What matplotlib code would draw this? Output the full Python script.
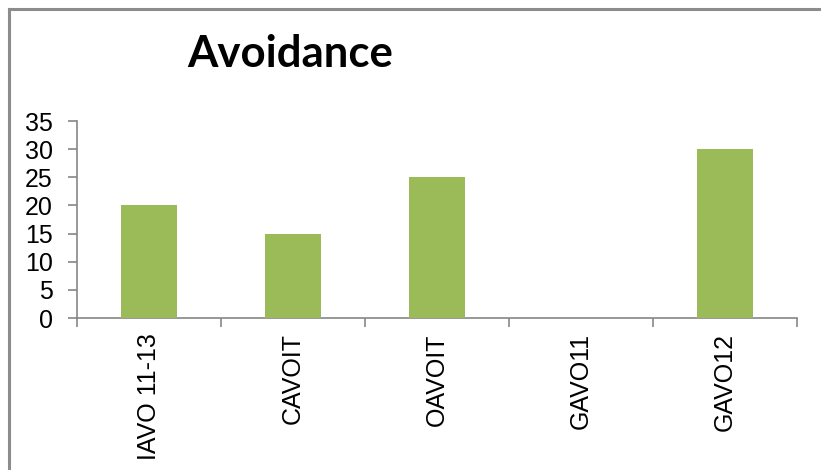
import numpy as np
import matplotlib
matplotlib.use('Agg')
import matplotlib.pyplot as plt
from matplotlib.lines import Line2D

# Datos
categories = ['IAVO 11-13', 'CAVOIT', 'OAVOIT', 'GAVO11', 'GAVO12']
values = [20, 15, 25, 0, 30]
y_ticks = [0, 5, 10, 15, 20, 25, 30, 35]

color_bar = '#9BBB59'
color_axis = '#868686'

plt.rcParams['font.family'] = ['Liberation Sans', 'DejaVu Sans']

fig = plt.figure(figsize=(8.21, 4.70), dpi=100)
ax = fig.add_axes([0.0938, 0.3234, 0.877, 0.4191])

x = np.arange(len(categories))
ax.bar(x, values, width=0.39, color=color_bar, zorder=3)

ax.set_xlim(-0.5, len(categories) - 0.5)
ax.set_ylim(0, 35)
ax.set_yticks(y_ticks)
ax.set_xticks(x)
ax.set_xticklabels(categories, rotation=90, fontsize=18)
ax.set_xticks(np.arange(len(categories) + 1) - 0.5, minor=True)

for s in ['top', 'right']:
    ax.spines[s].set_visible(False)
for s in ['left', 'bottom']:
    ax.spines[s].set_color(color_axis)
    ax.spines[s].set_linewidth(1.2)

ax.tick_params(axis='y', direction='out', length=6.5, width=1.2,
               color=color_axis, labelsize=18, pad=11)
ax.tick_params(axis='x', which='major', length=0, pad=11)
ax.tick_params(axis='x', which='minor', direction='out', length=6.5,
               width=1.2, color=color_axis)

# Título
fig.text(0.3532, 0.8574, 'Avoidance', fontsize=31.5, fontweight='bold',
         family=['Lato', 'DejaVu Sans'], ha='center', va='baseline')

# Borde del gráfico
fig.add_artist(Line2D([8.5 / 821, 1], [1 - 9 / 470, 1 - 9 / 470],
                      color='#8c8c8c', linewidth=2.2, transform=fig.transFigure))
fig.add_artist(Line2D([8.5 / 821, 8.5 / 821], [0, 1 - 9 / 470],
                      color='#8c8c8c', linewidth=2.2, transform=fig.transFigure))

fig.savefig('out.png', dpi=100, facecolor='white')
